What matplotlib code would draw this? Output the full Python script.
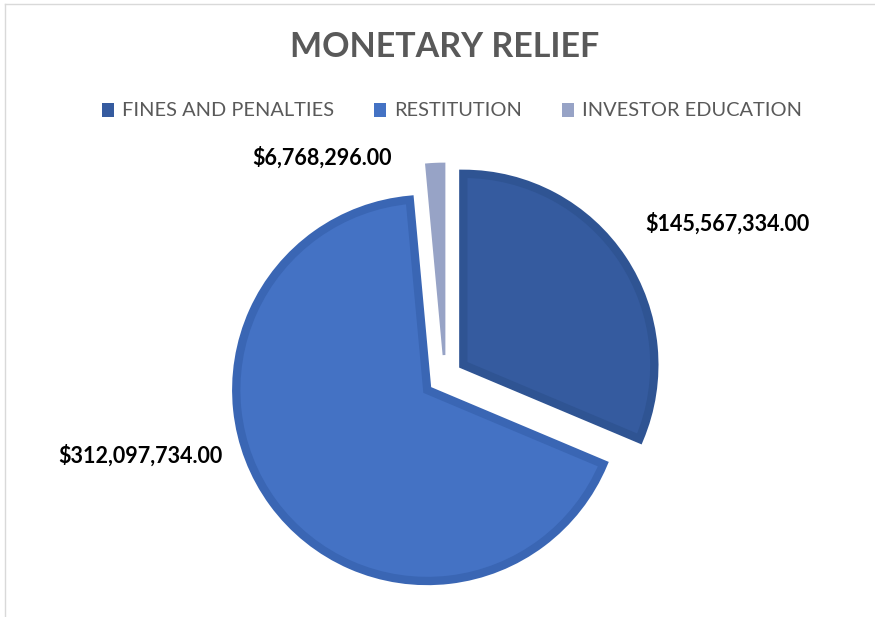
import matplotlib
matplotlib.use("Agg")
import matplotlib.pyplot as plt
from matplotlib.patches import Patch
from matplotlib.lines import Line2D

# data
categories = ["FINES AND PENALTIES", "RESTITUTION", "INVESTOR EDUCATION"]
values = [145567334.00, 312097734.00, 6768296.00]
labels = ["${:,.2f}".format(v) for v in values]

fills = ["#355B9F", "#4472C4", "#97A3C6"]
edges = ["#2F5493", "#3A66B4", "#97A3C6"]

W, H = 875, 617
fig = plt.figure(figsize=(W / 100, H / 100), dpi=100)
ax = fig.add_axes([0, 0, 1, 1])

# explode is in data units here (pixels)
wedges, _ = ax.pie(
    values,
    startangle=90,
    counterclock=False,
    radius=191,
    center=(445, H - 377),
    explode=[22, 22, 22],
    colors=fills,
    wedgeprops=dict(linewidth=6, joinstyle="miter"),
)
for w, ec in zip(wedges, edges):
    w.set_edgecolor(ec)
wedges[2].set_linewidth(2)

# pie() resets the limits, so set pixel-like limits afterwards
ax.set_xlim(0, W)
ax.set_ylim(0, H)
ax.set_aspect("equal")
ax.axis("off")

# data labels (Excel-style positions around the pie)
label_pos = [(645, H - 224, "left"), (223, H - 456, "right"), (392, H - 158, "right")]
for txt, (x, y, ha) in zip(labels, label_pos):
    ax.text(x, y, txt, ha=ha, va="center", fontsize=15.5,
            fontweight="bold", family="Lato", color="#000000")

fig.text(445 / W, 1 - 47 / H, "MONETARY RELIEF", ha="center", va="center",
         fontsize=24.5, fontweight="bold", family="Lato", color="#595959")

handles = [Patch(facecolor=c, edgecolor="none") for c in fills]
leg = fig.legend(handles, categories, loc="center", bbox_to_anchor=(452 / W, 1 - 111 / H),
                 ncol=3, frameon=False, handlelength=0.6, handleheight=0.7,
                 handletextpad=0.4, columnspacing=2.0,
                 prop=dict(family="Lato", size=14.4))
for t in leg.get_texts():
    t.set_color("#595959")

# chart-area border (partly cut off at right/bottom)
fig.add_artist(Line2D([5 / W, 1], [1 - 4 / H, 1 - 4 / H], color="#d9d9d9", lw=1))
fig.add_artist(Line2D([5 / W, 5 / W], [0, 1 - 4 / H], color="#d9d9d9", lw=1))

fig.savefig("out.png", dpi=100)
